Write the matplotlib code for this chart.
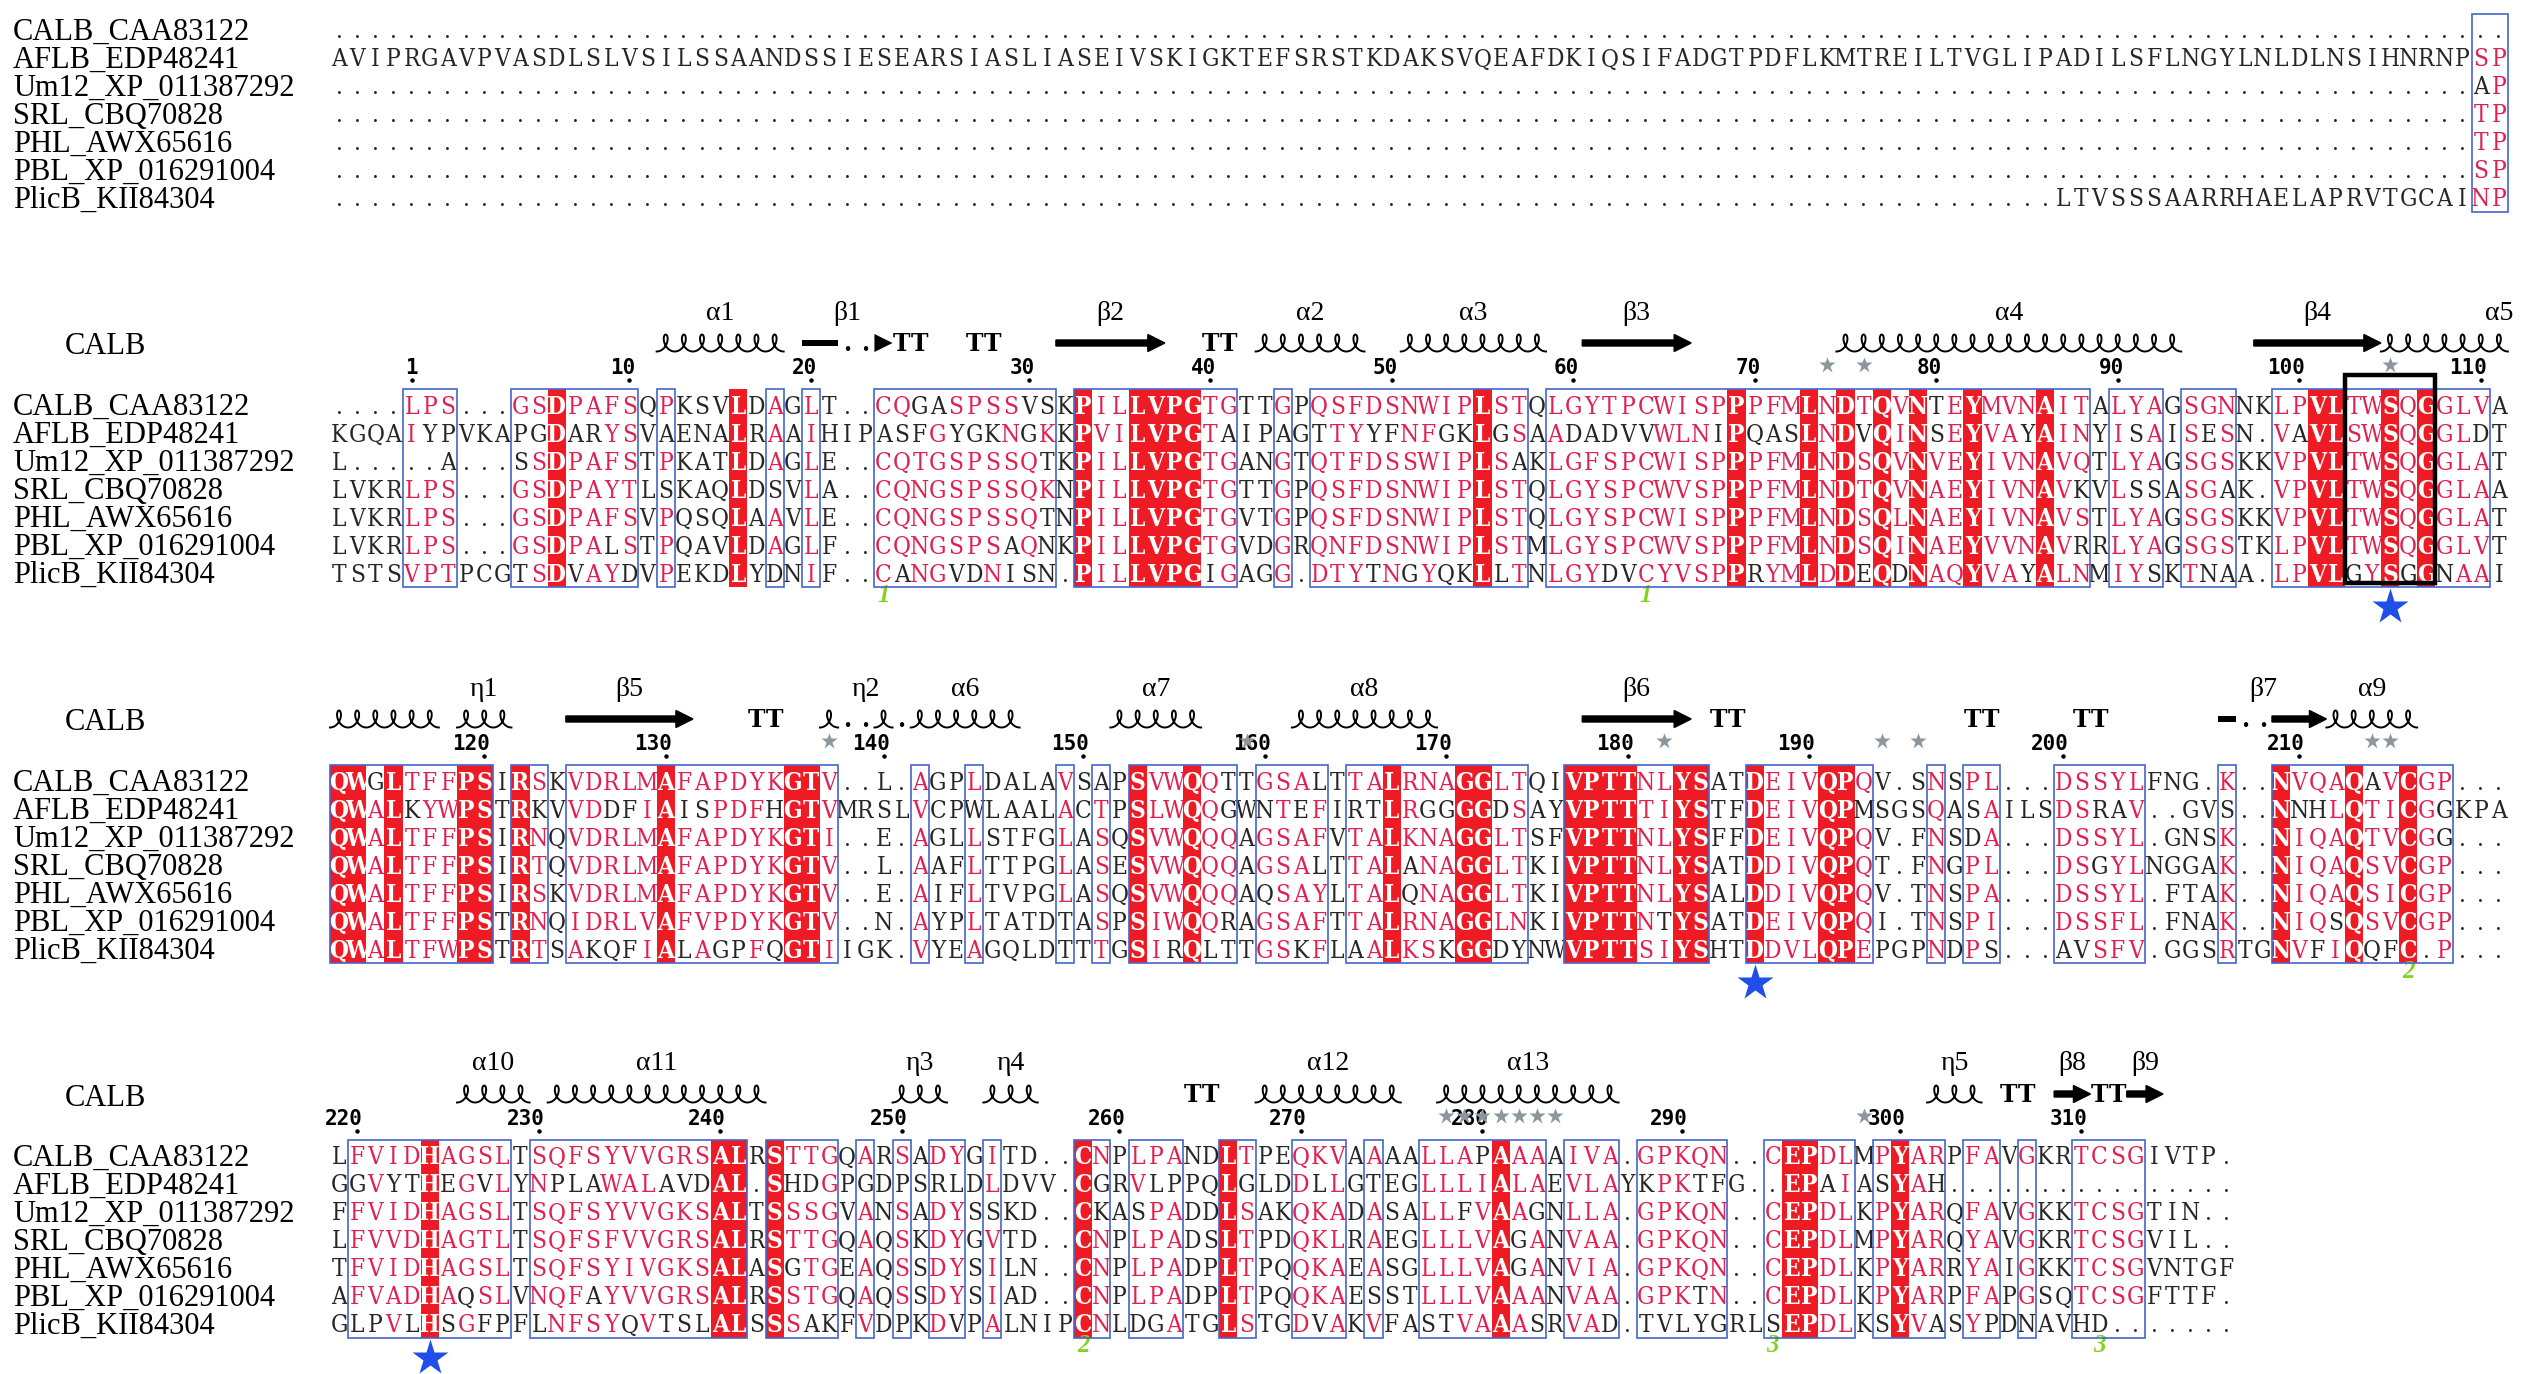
from collections import Counter

import matplotlib.pyplot as plt
import numpy as np
from matplotlib.patches import FancyArrow, Polygon, Rectangle

plt.rcParams['font.family'] = ['Liberation Serif', 'DejaVu Serif']

# sequence names (same in every block)
names = ['CALB_CAA83122', 'AFLB_EDP48241', 'Um12_XP_011387292', 'SRL_CBQ70828',
         'PHL_AWX65616', 'PBL_XP_016291004', 'PlicB_KII84304']

# alignment blocks, one string per sequence ('.' = gap)
block1 = [
    '.' * 120,
    'AVIPRGAVPVASDLSLVSILSSAANDSSIESEARSIASLIASEIVSKIGKTEFSRSTKDAK'
    'SVQEAFDKIQSIFADGTPDFLKMTREILTVGLIPADILSFLNGYLNLDLNSIHNRNPSP',
    '.' * 118 + 'AP',
    '.' * 118 + 'TP',
    '.' * 118 + 'TP',
    '.' * 118 + 'SP',
    '.' * 95 + 'LTVSSSAARRHAELAPRVTGCAINP',
]
block2 = [
    '....LPS...GSDPAFSQPKSVLDAGLT' '..CQGASPSSVSKPILLVPGTGTTGPQSFDSNWIPLSTQLGYTPCWIS' 'PPPFMLNDTQVNTEYMVNAITALYAGSGNNKLPVLTWSQGGLVA',
    'KGQAIYPVKAPGDARYSVAENALRAAIH' 'IPASFGYGKNGKKPVILVPGTAIPAGTTYYFNFGKLGSAADADVVWLN' 'IPQASLNDVQINSEYVAYAINYISAISESN.VAVLSWSQGGLDT',
    'L.....A...SSDPAFSTPKATLDAGLE' '..CQTGSPSSQTKPILLVPGTGANGTQTFDSSWIPLSAKLGFSPCWIS' 'PPPFMLNDSQVNVEYIVNAVQTLYAGSGSKKVPVLTWSQGGLAT',
    'LVKRLPS...GSDPAYTLSKAQLDSVLA' '..CQNGSPSSQKNPILLVPGTGTTGPQSFDSNWIPLSTQLGYSPCWVS' 'PPPFMLNDTQVNAEYIVNAVKVLSSASGAK.VPVLTWSQGGLAA',
    'LVKRLPS...GSDPAFSVPQSQLAAVLE' '..CQNGSPSSQTNPILLVPGTGVTGPQSFDSNWIPLSTQLGYSPCWIS' 'PPPFMLNDSQLNAEYIVNAVSTLYAGSGSKKVPVLTWSQGGLAT',
    'LVKRLPS...GSDPALSTPQAVLDAGLF' '..CQNGSPSAQNKPILLVPGTGVDGRQNFDSNWIPLSTMLGYSPCWVS' 'PPPFMLNDSQINAEYVVNAVRRLYAGSGSTKLPVLTWSQGGLVT',
    'TSTSVPTPCGTSDVAYDVPEKDLYDNIF' '..CANGVDNISN.PILLVPGIGAGG.DTYTNGYQKLLTNLGYDVCYVS' 'PPRYMLDDEQDNAQYVAYALNMIYSKTNAA.LPVLGYSGGNAAI',
]
block3 = [
    'QWGLTFFPSIRSKVDRLMAFAPDYKGTV' '..L.AGPLDALAVSAPSVWQQTTGSALTTALRNAGGLTQIVPTTNLYS' 'ATDEIVQPQV.SNSPL...DSSYLFNG.K..NVQAQAVCGP...',
    'QWALKYWPSTRKVVDDFIAISPDFHGTV' 'MRSLVCPWLAALACTPSLWQQGWNTEFIRTLRGGGGDSAYVPTTTIYS' 'TFDEIVQPMSGSQASAILSDSRAV..GVS..NNHLQTICGGKPA',
    'QWALTFFPSIRNQVDRLMAFAPDYKGTI' '..E.AGLLSTFGLASQSVWQQQAGSAFVTALKNAGGLTSFVPTTNLYS' 'FFDEIVQPQV.FNSDA...DSSYL.GNSK..NIQAQTVCGG...',
    'QWALTFFPSIRTQVDRLMAFAPDYKGTV' '..L.AAFLTTPGLASESVWQQQAGSALTTALANAGGLTKIVPTTNLYS' 'ATDDIVQPQT.FNGPL...DSGYLNGGAK..NIQAQSVCGP...',
    'QWALTFFPSIRSKVDRLMAFAPDYKGTV' '..E.AIFLTVPGLASQSVWQQQAQSAYLTALQNAGGLTKIVPTTNLYS' 'ALDDIVQPQV.TNSPA...DSSYL.FTAK..NIQAQSICGP...',
    'QWALTFFPSTRNQIDRLVAFVPDYKGTV' '..N.AYPLTATDTASPSIWQQRAGSAFTTALRNAGGLNKIVPTTNTYS' 'ATDEIVQPQI.TNSPI...DSSFL.FNAK..NIQSQSVCGP...',
    'QWALTFWPSTRTSAKQFIALAGPFQGTI' 'IGK.VYEAGQLDTTTGSIRQLTTGSKFLAALKSKGGDYNWVPTTSIYS' 'HTDDVLQPEPGPNDPS...AVSFV.GGSRTGNVFIQQFC.P...',
]
block4 = [
    'LFVIDHAGSLTSQFSYVVGRSALRSTTG' 'QARSADYGITD..CNPLPANDLTPEQKVAAAALLAPAAAAIVA.GPKQ' 'N..CEPDLMPYARPFAVGKRTCSGIVTP.',
    'GGVYTHEGVLYNPLAWALAVDAL.SHDG' 'PGDPSRLDLDVV.CGRVLPPQLGLDDLLGTEGLLLIALAEVLAYKPKT' 'FG..EPAIASYAH................',
    'FFVIDHAGSLTSQFSYVVGKSALTSSSG' 'VANSADYSSKD..CKASPADDLSAKQKADASALLFVAAGNLLA.GPKQ' 'N..CEPDLKPYARQFAVGKKTCSGTIN..',
    'LFVVDHAGTLTSQFSFVVGRSALRSTTG' 'QAQSKDYGVTD..CNPLPADSLTPDQKLRAEGLLLVAGANVAA.GPKQ' 'N..CEPDLMPYARQYAVGKRTCSGVIL..',
    'TFVIDHAGSLTSQFSYIVGKSALASGTG' 'EAQSSDYSILN..CNPLPADPLTPQQKAEASGLLLVAGANVIA.GPKQ' 'N..CEPDLKPYARRYAIGKKTCSGVNTGF',
    'AFVADHAQSLVNQFAYVVGRSALRSSTG' 'QAQSSDYSIAD..CNPLPADPLTPQQKAESSTLLLVAAANVAA.GPKT' 'N..CEPDLKPYARPFAPGSQTCSGFTTF.',
    'GLPVLHSGFPFLNFSYQVTSLALSSSAK' 'FVDPKDVPALNIPCNLDGATGLSTGDVAKVFASTVAAASRVAD.TVLY' 'GRLSEPDLKSYVASYPDNAVHD.......',
]

# similarity boxes (alignment column ranges, 1-based)
boxes1 = [(119, 120)]
boxes2 = [(5, 7), (11, 17), (19, 19), (25, 25), (27, 27), (31, 40), (42, 50), (53, 53),
          (55, 66), (68, 97), (99, 101), (103, 105), (108, 119)]
boxes3 = [(1, 9), (11, 12), (14, 28), (33, 33), (36, 36), (41, 41), (43, 43), (45, 50),
          (52, 55), (57, 66), (69, 76), (79, 85), (89, 89), (91, 92), (96, 100),
          (105, 105), (108, 117)]
boxes4 = [(2, 10), (12, 23), (25, 28), (30, 30), (32, 32), (34, 35), (37, 37), (42, 43),
          (45, 47), (50, 51), (54, 56), (58, 58), (61, 67), (69, 71), (73, 77), (80, 84),
          (86, 89), (91, 92), (94, 94), (97, 100)]

# CALB secondary structure: (kind, first col, last col, label, label col)
ss2 = [('helix', 19, 25, 'α1'), ('bar', 27, 28, 'β1', 29), ('gap', 29, 30), ('head', 31, 31),
       ('turn', 32, 33), ('turn', 36, 37), ('strand', 41, 46, 'β2'), ('turn', 49, 50),
       ('helix', 52, 57, 'α2'), ('helix', 60, 67, 'α3'), ('strand', 70, 75, 'β3'),
       ('helix', 84, 102, 'α4'), ('strand', 107, 113, 'β4'), ('helix', 114, 120, 'α5', 120)]
ss3 = [('helix', 1, 6), ('helix', 8, 10, 'η1'), ('strand', 14, 20, 'β5'), ('turn', 24, 25),
       ('helix', 28, 28), ('gap', 29, 30), ('helix', 31, 31, 'η2', 30), ('gap', 32, 32),
       ('helix', 33, 38, 'α6'), ('helix', 44, 48, 'α7'), ('helix', 54, 61, 'α8'),
       ('strand', 70, 75, 'β6'), ('turn', 77, 78), ('turn', 91, 92), ('turn', 97, 98),
       ('bar', 105, 105), ('gap', 106, 107), ('strand', 108, 110, 'β7', 107),
       ('helix', 111, 115, 'α9')]
ss4 = [('helix', 8, 11, 'α10'), ('helix', 13, 24, 'α11'), ('helix', 32, 34, 'η3'),
       ('helix', 37, 39, 'η4'), ('turn', 48, 49), ('helix', 52, 59, 'α12'),
       ('helix', 62, 71, 'α13'), ('helix', 89, 91, 'η5'), ('turn', 93, 94),
       ('strand', 96, 97, 'β8'), ('turn', 98, 99), ('strand', 100, 101, 'β9')]

# grey stars, catalytic residues (blue stars), disulfide labels, GXSXG frame
stars2 = [83, 85, 114]
stars3 = [28, 51, 74, 86, 88, 113, 114]
stars4 = [62, 63, 64, 65, 66, 67, 68, 85]
catalytic2, catalytic3, catalytic4 = [114], [79], [6]
bonds2 = [(31, '1'), (73, '1')]
bonds3 = [(115, '2')]
bonds4 = [(42, '2'), (80, '3'), (98, '3')]
frame2 = [(112, 116)]

# layout (pixels)
W = 18.15
X1 = 339
ROW_H = 28
ROW0 = [30, 405, 781, 1156]
RED = '#ee1b24'
RED_TXT = '#e0204f'
BLUE = '#4466cc'
DARK = '#262626'
SEQ_FONT = dict(family='DejaVu Serif', fontstretch='condensed', fontsize=17.5)
NUM_FONT = dict(family='DejaVu Sans Mono', fontsize=15, fontweight='bold')

SIM_GROUPS = ['VILMA', 'FYW', 'STN', 'NDEQ', 'KR', 'HY']


def colx(c):
    return X1 + (c - 1) * W


def similar(a, b):
    return a == b or any(a in g and b in g for g in SIM_GROUPS)


def draw_block(ax, rows, boxes, R):
    top, h = R - 16, (len(rows) - 1) * ROW_H + 30
    boxed = set()
    for a, b in boxes:
        boxed.update(range(a, b + 1))
        ax.add_patch(Rectangle((colx(a) - W / 2, top), (b - a + 1) * W, h,
                               fill=False, ec=BLUE, lw=1.2, zorder=4))
    for ri, nm in enumerate(names):
        ax.text(13, R + ri * ROW_H + 10, nm, fontsize=22, va='baseline', color='black')
    for c in range(1, len(rows[0]) + 1):
        col = [r[c - 1] for r in rows]
        res = [x for x in col if x != '.']
        ident = len(res) == len(col) and len(set(res)) == 1
        cons = Counter(res).most_common(1)[0][0] if res else None
        if ident:
            ax.add_patch(Rectangle((colx(c) - W / 2, top), W, h, fc=RED, ec='none', zorder=1))
        for ri, ch in enumerate(col):
            weight = 'normal'
            if ident:
                color, weight = 'white', 'bold'
            elif c in boxed and ch != '.' and similar(ch, cons):
                color = RED_TXT
            else:
                color = DARK
            ax.text(colx(c), R + ri * ROW_H + 8.5, ch, fontweight=weight, color=color,
                    ha='center', va='baseline', zorder=3, **SEQ_FONT)


def draw_helix(ax, c0, c1, y):
    n = c1 - c0 + 1
    t = np.linspace(0, 2 * np.pi * n, 90 * n)
    r = W / (2 * np.pi)
    x = colx(c0) - W / 2 + r * t + 2.0 * r * np.sin(t)
    ax.plot(x, y + 8.5 * np.cos(t), color='black', lw=1.4, zorder=3)


def draw_ss(ax, elems, R):
    y = R - 62
    for e in elems:
        kind, c0, c1 = e[0], e[1], e[2]
        xl, xr = colx(c0) - W / 2, colx(c1) + W / 2
        if kind == 'helix':
            draw_helix(ax, c0, c1, y)
        elif kind == 'strand':
            ax.add_patch(FancyArrow(xl, y, xr - xl, 0, width=6, head_width=17,
                                    head_length=min(17, xr - xl), length_includes_head=True,
                                    fc='black', ec='black', zorder=3))
        elif kind == 'bar':
            ax.add_patch(Rectangle((xl, y - 3), xr - xl, 6, fc='black', ec='none'))
        elif kind == 'head':
            ax.add_patch(Polygon([(xl, y - 9), (xl, y + 9), (xr, y)], fc='black', ec='none'))
        elif kind in ('turn', 'gap'):
            ch = 'T' if kind == 'turn' else '.'
            for c in range(c0, c1 + 1):
                ax.text(colx(c), y + 8, ch, family='DejaVu Serif', fontsize=17,
                        fontweight='bold', ha='center', va='baseline', color='black')
        if len(e) > 3:
            lc = e[4] if len(e) > 4 else (c0 + c1) / 2
            ax.text(colx(lc), R - 92, e[3], fontsize=20, ha='center', va='center')


def draw_numbers(ax, calb, R, start):
    n = start
    for c, ch in enumerate(calb, 1):
        if ch == '.':
            continue
        n += 1
        if n == 1 or n % 10 == 0:
            ax.text(colx(c) + 6, R - 31, str(n), ha='right', va='baseline',
                    color='black', zorder=3, **NUM_FONT)
            ax.plot(colx(c), R - 25, 'o', ms=2.2, color='black', zorder=3)
    return n


def main():
    fig = plt.figure(figsize=(25.25, 13.74), dpi=100)
    ax = fig.add_axes([0, 0, 1, 1])
    ax.set_xlim(0, 2525)
    ax.set_ylim(1374, 0)
    ax.axis('off')

    blocks = [block1, block2, block3, block4]
    boxes = [boxes1, boxes2, boxes3, boxes4]
    sss = [[], ss2, ss3, ss4]
    stars = [[], stars2, stars3, stars4]
    cats = [[], catalytic2, catalytic3, catalytic4]
    bonds = [[], bonds2, bonds3, bonds4]
    frames = [[], frame2, [], []]

    count = 0
    for bi, rows in enumerate(blocks):
        R = ROW0[bi]
        draw_block(ax, rows, boxes[bi], R)
        count = draw_numbers(ax, rows[0], R, count)
        draw_ss(ax, sss[bi], R)
        if bi > 0:
            ax.text(105, R - 58, 'CALB', fontsize=22, ha='center', va='center')
        for c in stars[bi]:
            ax.plot(colx(c), R - 40, '*', ms=12, color='#8c969c', mec='none', zorder=5)
        for c in cats[bi]:
            ax.plot(colx(c), R + 202, '*', ms=27, color='#1f4ee8', mec='none', zorder=5)
        for c, lab in bonds[bi]:
            ax.text(colx(c), R + 190, lab, fontsize=18, fontstyle='italic',
                    fontweight='bold', color='#84d21c', ha='center', va='center')
        for a, b in frames[bi]:
            ax.add_patch(Rectangle((colx(a) - W / 2, R - 30), (b - a + 1) * W, 208,
                                   fill=False, ec='black', lw=3.2, zorder=6))

    fig.savefig('out.png', dpi=100)
    plt.close(fig)


if __name__ == '__main__':
    for blk, ncol in ((block1, 120), (block2, 120), (block3, 120), (block4, 105)):
        assert all(len(r) == ncol for r in blk), [len(r) for r in blk]
    main()
